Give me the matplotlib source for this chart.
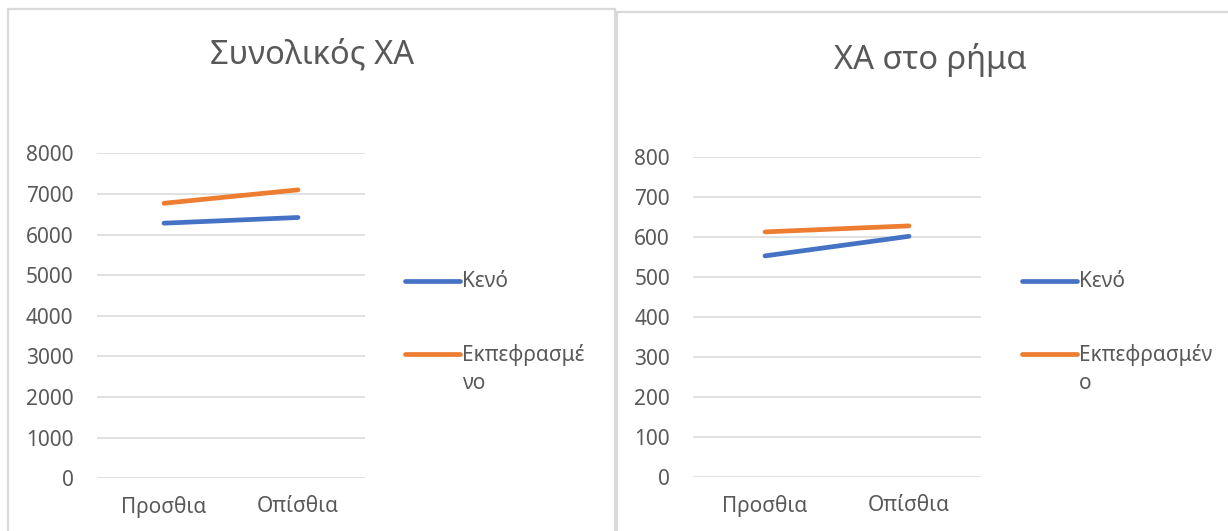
import matplotlib
matplotlib.use('Agg')
import matplotlib.pyplot as plt
from matplotlib.patches import Rectangle
from matplotlib.lines import Line2D

plt.rcParams['font.family'] = ['Noto Sans', 'DejaVu Sans']

# ----------------------------------------------------
# Δεδομένα
# ----------------------------------------------------
categories = ['Προσθια', 'Οπίσθια']
series_names = ['Κενό', 'Εκπεφρασμένο']
legend_left = ['Κενό', 'Εκπεφρασμέ\nνο']
legend_right = ['Κενό', 'Εκπεφρασμέν\nο']

total_keno = [6280, 6420]
total_ekpef = [6770, 7100]

verb_keno = [552, 601]
verb_ekpef = [612, 627]

colors = ['#4472C4', '#ED7D31']
grey_text = '#595959'
grid_col = '#D9D9D9'

W, H = 1228, 531
fig = plt.figure(figsize=(W / 100, H / 100), dpi=100)


def fx(px):
    return px / W


def fy(py):
    return 1 - py / H


# πλαίσια των δύο γραφημάτων
for x0, y0, x1, y1 in [(8, 9, 615, 540), (617, 12, 1240, 540)]:
    fig.add_artist(Rectangle((fx(x0), fy(y1)), fx(x1 - x0), (y1 - y0) / H,
                             transform=fig.transFigure, fill=False,
                             edgecolor=grid_col, linewidth=1.6))


def draw_chart(rect, series, ymax, step, title, title_xy, leg_labels, leg_x, leg_y, ypad):
    ax = fig.add_axes(rect)
    x = [0.5, 1.5]
    for vals, c in zip(series, colors):
        ax.plot(x, vals, color=c, linewidth=3.4, solid_capstyle='round')
    ax.set_xlim(0, 2)
    ax.set_ylim(0, ymax)
    ax.set_yticks(range(0, ymax + 1, step))
    ax.set_xticks(x)
    ax.set_xticklabels(categories)
    ax.grid(axis='y', color=grid_col, linewidth=1.1)
    ax.set_axisbelow(True)
    for s in ax.spines.values():
        s.set_visible(False)
    ax.tick_params(axis='both', length=0, labelsize=15, labelcolor=grey_text)
    ax.tick_params(axis='y', pad=ypad)
    ax.tick_params(axis='x', pad=13)
    fig.text(fx(title_xy[0]), fy(title_xy[1]), title, ha='center', va='center',
             fontsize=23.5, color=grey_text)
    # υπόμνημα
    for i, (lab, c) in enumerate(zip(leg_labels, colors)):
        yy = leg_y[i]
        fig.add_artist(Line2D([fx(leg_x), fx(leg_x + 55)], [fy(yy), fy(yy)],
                              transform=fig.transFigure, color=c,
                              linewidth=3.4, solid_capstyle='round'))
        fig.text(fx(leg_x + 57), fy(yy - 10), lab, ha='left', va='top',
                 fontsize=15, color=grey_text, linespacing=1.45)
    return ax


draw_chart([fx(97), fy(478.3), fx(365 - 97), (478.3 - 153.3) / H],
           [total_keno, total_ekpef], 8000, 1000,
           'Συνολικός ΧΑ', (312, 55), legend_left, 405, [281, 354], 17)

draw_chart([fx(693), fy(476.7), fx(981 - 693), (476.7 - 156.7) / H],
           [verb_keno, verb_ekpef], 800, 100,
           'ΧΑ στο ρήμα', (930, 60), legend_right, 1022, [281, 354], 16.5)

fig.savefig('out.png', dpi=100)
